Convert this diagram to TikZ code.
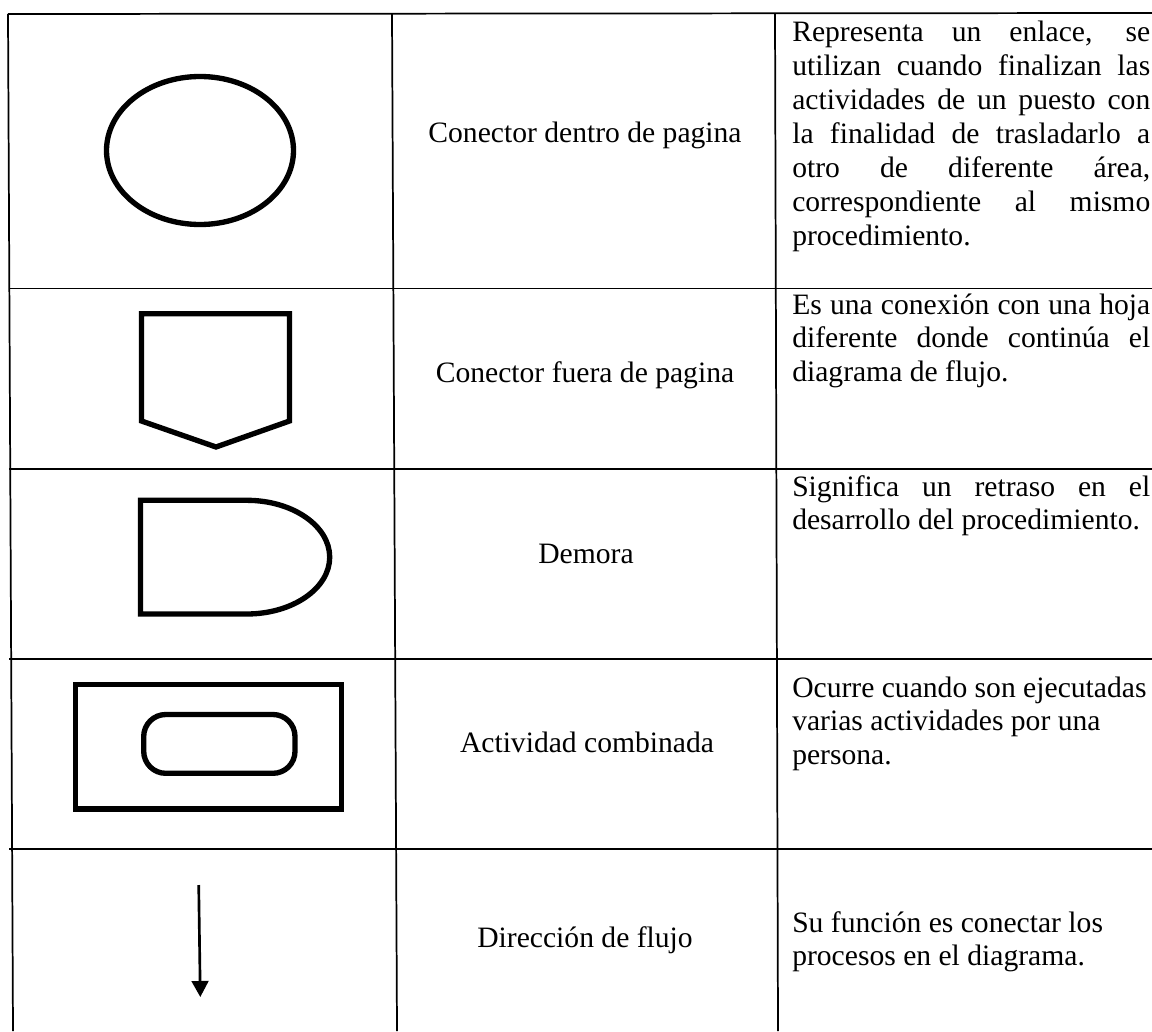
\documentclass[tikz,border=0pt]{standalone}
\usepackage{fontspec}
\setmainfont{Liberation Serif}
\usetikzlibrary{arrows.meta}
\hbadness=10000
\tikzset{
  grid/.style={line width=1.3pt, black},
  sym/.style={line width=4pt, black, line join=miter},
  midtxt/.style={anchor=base, inner sep=0pt, font=\fontsize{22.2}{25.4}\selectfont},
  desc/.style={anchor=base west, inner sep=0pt, font=\fontsize{22.2}{25.4}\selectfont},
}
\newcommand{\desctext}[1]{\begin{minipage}[t]{268.5pt}\setlength{\parindent}{0pt}\fontsize{22.2}{25.4}\selectfont\baselineskip=25.4pt\lineskiplimit=-10pt #1\par\end{minipage}}
\begin{document}
\begin{tikzpicture}[x=0.75pt,y=-0.75pt]
\useasboundingbox[fill=white] (0,0) rectangle (1152,1031);
% table grid
\coordinate (tl) at (8,14);
\coordinate (bl) at (13,1031);
\coordinate (d1t) at (392,14);
\coordinate (d1b) at (397,1031);
\coordinate (d2t) at (775,14);
\coordinate (d2b) at (778,1031);
\coordinate (tr) at (1152,13);
\draw[grid] (tl) -- (bl);
\draw[grid] (d1t) -- (d1b);
\draw[grid] (d2t) -- (d2b);
\draw[grid] (tl) -- (tr);
\foreach \yy/\nm in {288.5/r1, 469.3/r2, 659/r3, 848.7/r4}{
  \coordinate (\nm a) at (9,\yy);
  \coordinate (\nm b) at (1152,\yy);
  \draw[grid] (\nm a) -- (\nm b);
}
% row 1: ellipse
\draw[sym] (200,150.5) ellipse [x radius=93.5, y radius=74];
% row 2: off-page connector
\draw[sym] (141.5,313.7) -- (289.5,313.7) -- (289.5,421) -- (216,447) -- (141.5,421) -- cycle;
% row 3: delay
\draw[sym] (246.7,500.3) -- (140.5,500.3) -- (140.5,614) -- (246.7,614)
  .. controls (292.5,614) and (329.7,588.5) .. (329.7,557.15)
  .. controls (329.7,525.8) and (292.5,500.3) .. (246.7,500.3) -- cycle;
% row 4: combined activity
\draw[sym] (75.5,684.2) rectangle (341.3,809);
\draw[sym, rounded corners=16.5pt] (143.7,714.5) rectangle (295,773.3);
% row 5: flow arrow
\coordinate (arrS) at (198.7,885);
\coordinate (arrE) at (200.3,997);
\draw[line width=2pt, -{Triangle[length=12pt,width=12.5pt]}] (arrS) -- (arrE);
% middle column
\node[midtxt] (n1) at (585,142) {Conector dentro de pagina};
\node[midtxt] (n2) at (585,382) {Conector fuera de pagina};
\node[midtxt] (n3) at (586,563) {Demora};
\node[midtxt] (n4) at (587,752) {Actividad combinada};
\node[midtxt] (n5) at (585,947) {Dirección de flujo};
% right column
\node[desc] (t1) at (792,42) {\desctext{Representa un enlace, se\linebreak utilizan cuando finalizan las\linebreak actividades de un puesto con\linebreak la finalidad de trasladarlo a\linebreak otro de diferente área,\linebreak correspondiente al mismo\linebreak procedimiento.}};
\node[desc] (t2) at (792,314) {\desctext{Es una conexión con una hoja\linebreak diferente donde continúa el\linebreak diagrama de flujo.}};
\node[desc] (t3) at (792,496) {\desctext{Significa un retraso en el\linebreak desarrollo del procedimiento.}};
\node[desc] (t4) at (792,697) {\desctext{Ocurre cuando son ejecutadas\\ varias actividades por una\\ persona.}};
\node[desc] (t5) at (792,932) {\desctext{Su función es conectar los\\ procesos en el diagrama.}};
\end{tikzpicture}
\end{document}
